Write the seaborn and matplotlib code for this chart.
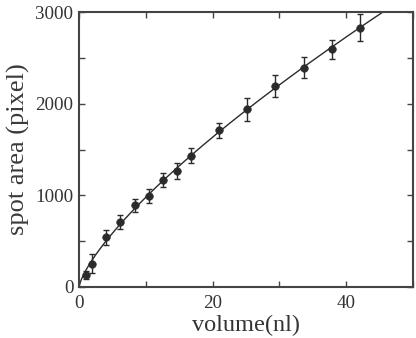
import numpy as np
import pandas as pd
import matplotlib
matplotlib.use("Agg")
import matplotlib.pyplot as plt
import seaborn as sns
from matplotlib.ticker import MultipleLocator

volume = [1.1, 2.0, 4.1, 6.2, 8.4, 10.4, 12.6, 14.6, 16.8, 20.9, 25.2, 29.3, 33.6, 37.8, 42.0]
area = [130, 255, 540, 710, 890, 995, 1170, 1265, 1435, 1710, 1940, 2195, 2395, 2595, 2830]
err = [45, 100, 85, 75, 70, 75, 75, 85, 85, 80, 125, 120, 115, 105, 145]
xticks = [0, 20, 40]
yticks = [0, 1000, 2000, 3000]

sns.set_theme(style="white")
plt.rcParams['font.family'] = ['Liberation Serif', 'DejaVu Serif']

df = pd.DataFrame({"volume": volume, "area": area, "err": err})

# power-law fit y = a * x^b, least squares in linear space
xv = df.volume.to_numpy()
yv = df.area.to_numpy()
best = None
for b in np.linspace(0.4, 1.2, 801):
    g = xv ** b
    a = (g @ yv) / (g @ g)
    r = ((yv - a * g) ** 2).sum()
    if best is None or r < best[0]:
        best = (r, a, b)
_, a_fit, b_fit = best
xf = np.linspace(0, 50, 400)
fit = pd.DataFrame({"x": xf, "y": a_fit * xf ** b_fit})

fig = plt.figure(figsize=(4.16, 3.38), dpi=100)
ax = fig.add_axes([0.19, 0.151, 0.803, 0.813])

col = "#2b2b2b"
sns.lineplot(data=fit, x="x", y="y", ax=ax, color=col, lw=1.0)
ax.errorbar(df.volume, df.area, yerr=df.err, fmt="none", ecolor=col,
            elinewidth=1.0, capsize=2.5, capthick=1.0)
sns.scatterplot(data=df, x="volume", y="area", ax=ax, color=col, s=30,
                edgecolor=col, zorder=5)

ax.set_xlim(0, 50)
ax.set_ylim(0, 3000)
ax.set_xticks(xticks)
ax.set_yticks(yticks)
ax.xaxis.set_minor_locator(MultipleLocator(10))
ax.yaxis.set_minor_locator(MultipleLocator(500))
ax.tick_params(which="both", direction="in", top=True, right=True,
               bottom=True, left=True, color="#444444", width=1.0)
ax.tick_params(which="major", length=4, labelsize=13.7, labelcolor="#333333")
ax.tick_params(axis="x", which="major", pad=6)
ax.tick_params(axis="y", which="major", pad=4)
ax.tick_params(which="minor", length=4)
for s in ax.spines.values():
    s.set_color("#444444")
    s.set_linewidth(1.5)

ax.set_xlabel("volume(nl)", fontsize=17.5, color="#333333", labelpad=2)
ax.set_ylabel("spot area (pixel)", fontsize=19, color="#3a3a3a", labelpad=4)

fig.savefig("out.png", dpi=100)
